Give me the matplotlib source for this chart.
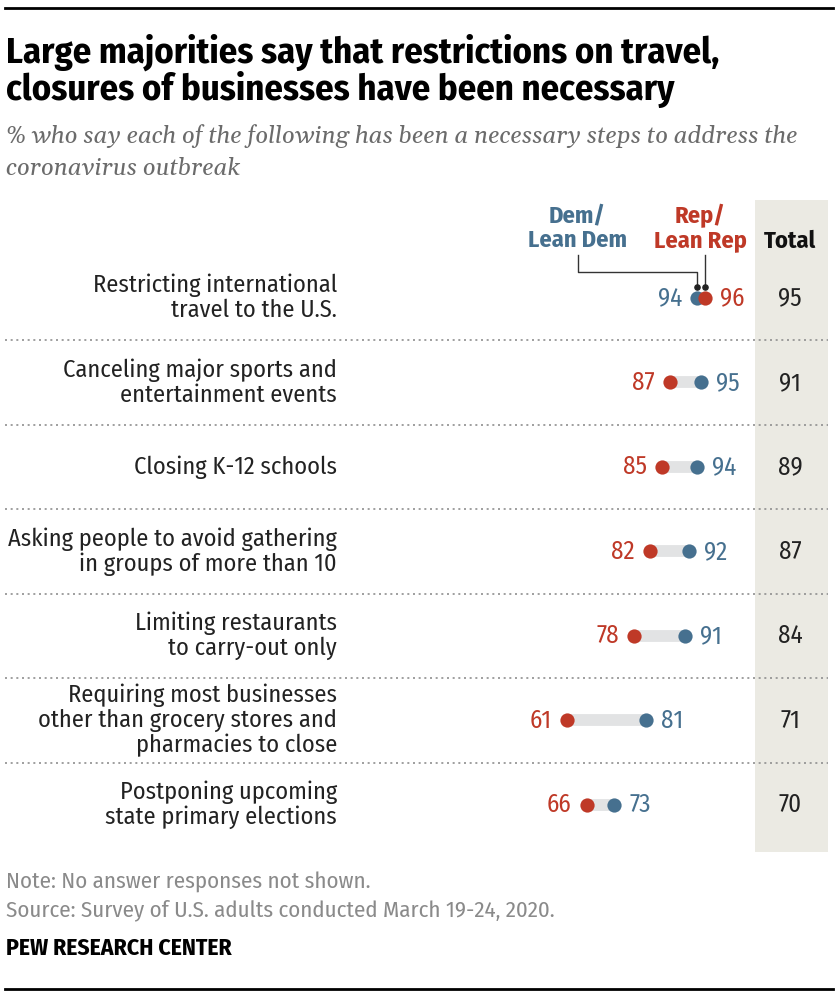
import matplotlib
matplotlib.use("Agg")
import matplotlib.pyplot as plt
from matplotlib.patches import Rectangle
from matplotlib import font_manager

items = [
    "Restricting international\ntravel to the U.S.",
    "Canceling major sports and\nentertainment events",
    "Closing K-12 schools",
    "Asking people to avoid gathering\nin groups of more than 10",
    "Limiting restaurants\nto carry-out only",
    "Requiring most businesses\nother than grocery stores and\npharmacies to close",
    "Postponing upcoming\nstate primary elections",
]
dem = [94, 95, 94, 92, 91, 81, 73]
rep = [96, 87, 85, 82, 78, 61, 66]
total = [95, 91, 89, 87, 84, 71, 70]

DEM_C = "#46708f"
REP_C = "#bf3927"
BAR_C = "#e2e3e4"
SHADE = "#ebeae3"

names = {f.name for f in font_manager.fontManager.ttflist}
body = "Fira Sans Condensed" if "Fira Sans Condensed" in names else "DejaVu Sans"
serif = "Gelasio" if "Gelasio" in names else "DejaVu Serif"
plt.rcParams["font.family"] = [body, "DejaVu Sans"]

W, H = 838, 1000
fig = plt.figure(figsize=(W / 100, H / 100), dpi=100)
ax = fig.add_axes([0, 0, 1, 1])
# 1 value unit ~ 3.95 px, value 0 at x=326 px; row spacing 84.5 px, first row at 298 px
ax.set_xlim(-326 / 3.95, (W - 326) / 3.95)
ax.set_ylim((H - 298) / 84.5, -298 / 84.5)
ax.axis("off")


def ftext(x, y, s, **kw):
    fig.text(x / W, 1 - y / H, s, **kw)


# top and bottom rules
fig.add_artist(plt.Line2D([5 / W, 833 / W], [1 - 8 / H, 1 - 8 / H], color="black", lw=2))
fig.add_artist(plt.Line2D([5 / W, 833 / W], [1 - 989 / H, 1 - 989 / H], color="black", lw=2))

ftext(6, 71, "Large majorities say that restrictions on travel,\nclosures of businesses have been necessary",
      fontsize=26.3, fontweight="bold", va="center", ha="left", linespacing=1.0, color="black")
ftext(6, 152, "% who say each of the following has been a necessary steps to address the\ncoronavirus outbreak",
      fontsize=17.3, style="italic", family=serif, color="#6b6b6b", va="center", ha="left", linespacing=1.45)

yt = ax.get_yaxis_transform()
n = len(items)

# shaded total column
ax.add_patch(Rectangle((755 / W, -98 / 84.5), 73 / W, 6.556 + 98 / 84.5,
                       transform=yt, facecolor=SHADE, edgecolor="none", zorder=0))

# separators
for i in range(n - 1):
    ax.plot([5 / W, 828 / W], [i + 0.5, i + 0.5], transform=yt, color="#8f8f8f",
            lw=1.2, linestyle=(0, (1.2, 2.2)), zorder=1)

for i in range(n):
    lo, hi = min(dem[i], rep[i]), max(dem[i], rep[i])
    ax.plot([lo, hi], [i, i], color=BAR_C, lw=8.5, solid_capstyle="butt", zorder=2)
    ax.scatter([dem[i]], [i], s=105, color=DEM_C, zorder=3, linewidths=0)
    ax.scatter([rep[i]], [i], s=105, color=REP_C, zorder=4, linewidths=0)
    left_c = DEM_C if dem[i] <= rep[i] else REP_C
    right_c = REP_C if dem[i] <= rep[i] else DEM_C
    ax.annotate(str(lo), (lo, i), xytext=(-15, 0), textcoords="offset pixels",
                ha="right", va="center", fontsize=18, color=left_c)
    ax.annotate(str(hi), (hi, i), xytext=(15, 0), textcoords="offset pixels",
                ha="left", va="center", fontsize=18, color=right_c)
    ax.text(790 / W, i, str(total[i]), transform=yt, ha="center", va="center",
            fontsize=18, color="#222222")
    ax.text(337 / W, i, items[i], transform=yt, ha="right", va="center",
            fontsize=17.5, color="#222222", linespacing=1.1)

# column headers
ftext(577, 228, "Dem/\nLean Dem", ha="center", va="center", fontsize=17.5,
      fontweight="bold", color=DEM_C, linespacing=1.05)
ftext(700, 228, "Rep/\nLean Rep", ha="center", va="center", fontsize=17.5,
      fontweight="bold", color=REP_C, linespacing=1.05)
ftext(790, 241, "Total", ha="center", va="center", fontsize=17.5,
      fontweight="bold", color="#111111")

# leader lines from headers to first row dots
y_top = (255 - 298) / 84.5
y_elb = (272 - 298) / 84.5
y_end = (287 - 298) / 84.5
x_dem_lab = (578 - 326) / 3.95
ax.plot([x_dem_lab, x_dem_lab, dem[0], dem[0]], [y_top, y_elb, y_elb, y_end],
        color="#333333", lw=1, zorder=5)
ax.plot([rep[0], rep[0]], [y_top, y_end], color="#333333", lw=1, zorder=5)
ax.scatter([dem[0], rep[0]], [y_end, y_end], s=14, color="#222222", zorder=6)

# footer
ftext(6, 882, "Note: No answer responses not shown.", fontsize=16.5, color="#8a8a8a", va="center")
ftext(6, 910, "Source: Survey of U.S. adults conducted March 19-24, 2020.", fontsize=16.5,
      color="#8a8a8a", va="center")
ftext(6, 948, "PEW RESEARCH CENTER", fontsize=17, fontweight="bold", color="black", va="center")

fig.savefig("out.png", dpi=100)
